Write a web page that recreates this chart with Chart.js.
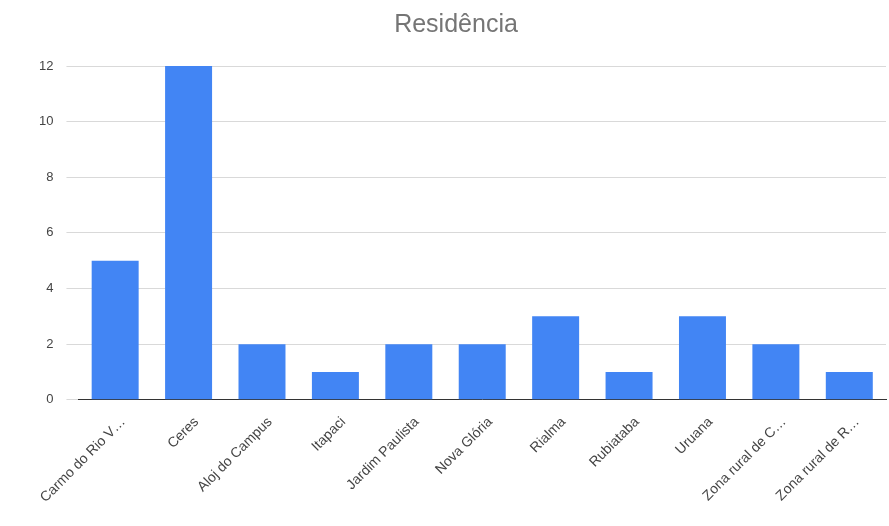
<!DOCTYPE html>
<html>
<head>
<meta charset="utf-8">
<script src="https://cdn.jsdelivr.net/npm/chart.js@4"></script>
<style>
  html, body { margin: 0; padding: 0; background: #fff; }
  #wrap { width: 889px; height: 526px; }
</style>
</head>
<body>
<div id="wrap"><canvas id="graphique"></canvas></div>
<script>
// Catégories (villes) et nombre de réponses
const categories = ["Carmo do Rio V…", "Ceres", "Aloj do Campus", "Itapaci", "Jardim Paulista",
  "Nova Glória", "Rialma", "Rubiataba", "Uruana", "Zona rural de C…", "Zona rural de R…"];
const valeurs = [5, 12, 2, 1, 2, 2, 3, 1, 3, 2, 1];
const ticksY = [0, 2, 4, 6, 8, 10, 12];

const data = {
  labels: categories,
  datasets: [{
    label: "Residência",
    data: valeurs,
    backgroundColor: "#4285F4",
    barPercentage: 0.64,
    categoryPercentage: 1,
  }],
};

const config = {
  type: "bar",
  data: data,
  options: {
    responsive: true,
    maintainAspectRatio: false,
    animation: false,
    layout: { padding: { left: 26, right: 3, top: 0, bottom: 14 } },
    plugins: {
      legend: { display: false },
      tooltip: { enabled: false },
      title: {
        display: true,
        text: "Residência",
        color: "#757575",
        font: { family: "Arial, Liberation Sans", size: 25, weight: "normal" },
        padding: { top: 10, bottom: 26 },
      },
    },
    scales: {
      x: {
        grid: { display: false },
        border: { color: "#333", width: 1 },
        ticks: {
          color: "#444",
          font: { family: "Arial, Liberation Sans", size: 14 },
          maxRotation: 45,
          minRotation: 45,
          autoSkip: false,
          labelOffset: 8,
          padding: 6,
        },
      },
      y: {
        min: 0,
        max: 12,
        afterBuildTicks: (axis) => { axis.ticks = ticksY.map(v => ({ value: v })); },
        grid: { color: "#d9d9d9", tickLength: 12 },
        border: { display: false },
        ticks: {
          color: "#444",
          font: { family: "Arial, Liberation Sans", size: 13 },
          padding: 13,
        },
      },
    },
  },
};

new Chart(document.querySelector("#graphique"), config);
</script>
</body>
</html>
